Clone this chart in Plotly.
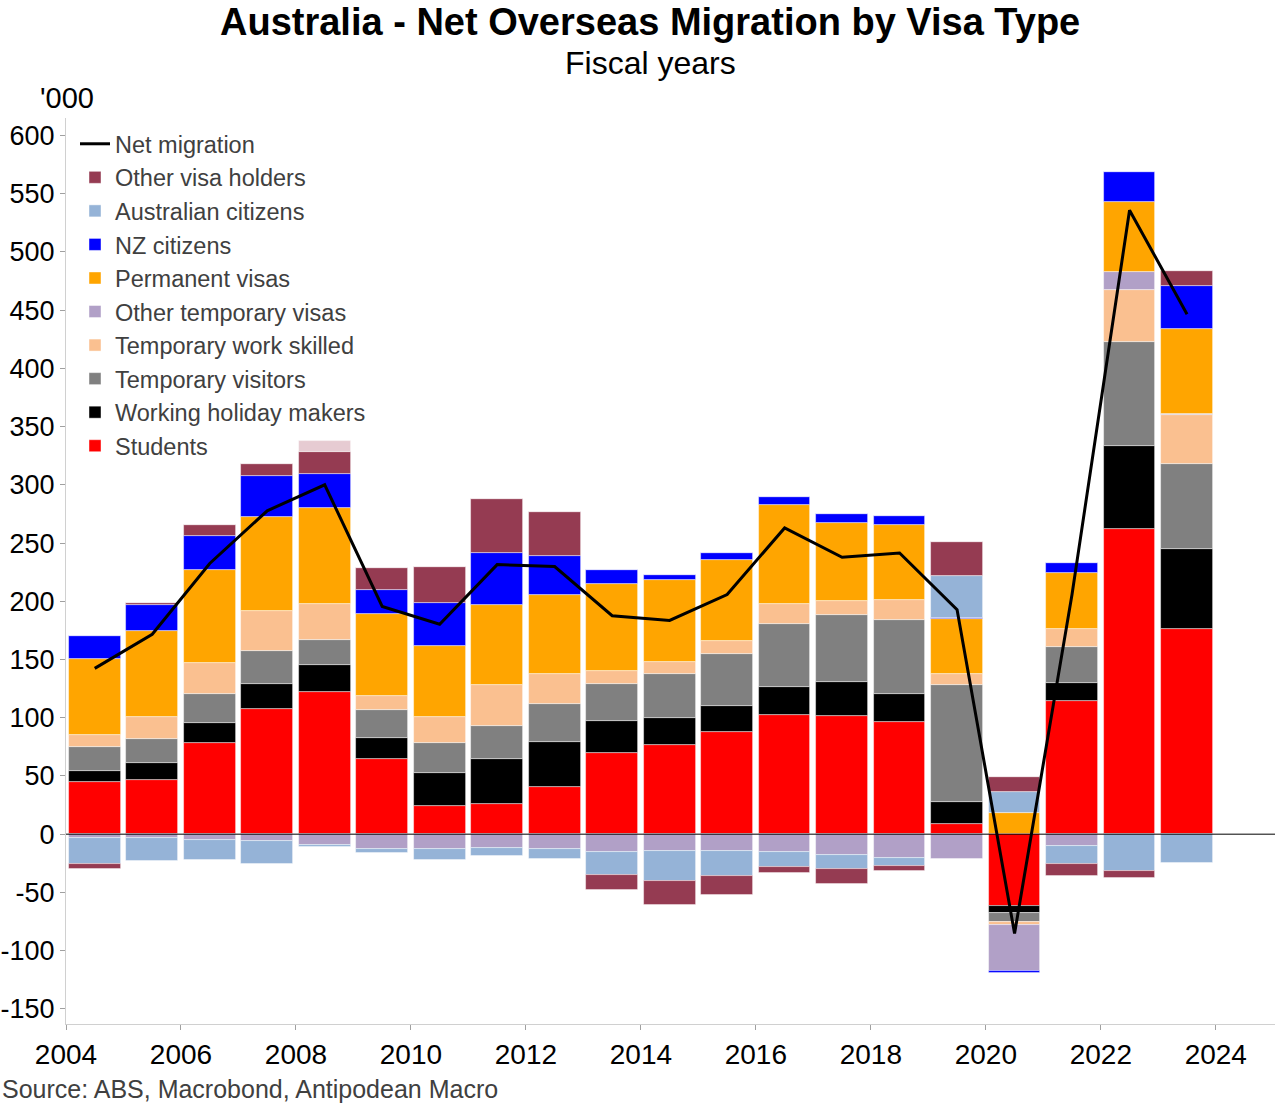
import plotly.graph_objects as go

# Fiscal years (bars centred mid-way between calendar years)
fiscal_years = [2005, 2006, 2007, 2008, 2009, 2010, 2011, 2012, 2013, 2014,
                2015, 2016, 2017, 2018, 2019, 2020, 2021, 2022, 2023, 2024]
x_pos = [fy - 0.5 for fy in fiscal_years]

students = [44.5, 46.7, 78.0, 107.2, 121.8, 64.5, 24.6, 25.5, 40.7, 69.9,
            76.5, 87.4, 102.0, 101.7, 96.3, 9.1, -61.5, 114.4, 262.4, 176.3]
working_holiday = [9.4, 14.3, 17.2, 21.8, 23.5, 18.0, 28.1, 38.7, 38.7, 27.2,
                   23.2, 22.6, 24.4, 28.7, 24.0, 18.2, -6.4, 15.4, 70.6, 68.3]
temp_visitors = [21.1, 20.4, 25.4, 28.6, 21.5, 24.1, 25.3, 28.9, 32.7, 32.0,
                 38.1, 44.5, 53.9, 58.2, 64.0, 101.2, -7.7, 30.6, 89.8, 72.9]
temp_work_skilled = [10.0, 19.5, 26.7, 33.9, 30.9, 12.0, 22.9, 35.0, 25.8, 11.0,
                     10.1, 11.4, 17.4, 11.4, 17.2, 9.1, -2.3, 15.9, 44.6, 42.4]
other_temp = [-3.7, -3.7, -5.2, -5.7, -8.9, -12.3, -12.9, -12.0, -12.9, -15.2,
              -14.1, -14.3, -14.9, -17.8, -20.1, -21.4, -39.6, -10.5, 15.1, 0.5]
permanent = [65.4, 73.3, 79.7, 80.8, 82.5, 70.8, 61.0, 68.8, 67.9, 74.6,
             70.4, 69.6, 85.1, 67.6, 64.1, 46.9, 18.2, 47.8, 60.6, 73.4]
nz_citizens = [20.1, 22.3, 28.8, 35.7, 29.5, 20.1, 36.3, 44.4, 33.5, 12.3,
               4.3, 6.0, 6.9, 7.5, 7.8, 1.4, -1.9, 8.7, 25.9, 36.9]
aus_citizens = [-21.5, -19.5, -17.2, -20.1, -2.3, -4.0, -8.9, -6.9, -8.6, -20.0,
                -26.0, -21.5, -13.5, -12.3, -7.1, 36.0, 17.8, -15.0, -31.4, -24.6]
other_visa_holders = [-4.6, 1.7, 10.0, 10.3, 18.1, 18.9, 31.6, 46.9, 37.5, -12.4,
                      -21.0, -16.0, -5.1, -12.6, -4.3, 29.1, 12.7, -10.5, -6.4, 12.7]
unlabelled = [0, 0, 0, 0, 10.0, 0, 0, 0, 0, 0,
              0, 0, 0, 0, 0, 0, 0, 0, 0, 0]
net_migration = [142.4, 171.7, 232.5, 277.7, 300.0, 195.6, 180.3, 231.5, 229.8, 187.6,
                 183.6, 205.8, 263.0, 237.8, 241.5, 192.7, -85.2, 206.0, 535.8, 446.5]

x_ticks = [2004, 2006, 2008, 2010, 2012, 2014, 2016, 2018, 2020, 2022, 2024]
y_ticks = [-150, -100, -50, 0, 50, 100, 150, 200, 250, 300, 350, 400, 450, 500, 550, 600]

series = [
    ("Students", students, "#ff0000", True),
    ("Working holiday makers", working_holiday, "#000000", True),
    ("Temporary visitors", temp_visitors, "#808080", True),
    ("Temporary work skilled", temp_work_skilled, "#fac090", True),
    ("Other temporary visas", other_temp, "#b1a0c7", True),
    ("Permanent visas", permanent, "#ffa500", True),
    ("NZ citizens", nz_citizens, "#0000ff", True),
    ("Australian citizens", aus_citizens, "#95b3d7", True),
    ("Other visa holders", other_visa_holders, "#953b52", True),
    ("Other", unlabelled, "#e6cbd2", False),
]

FONT = "Liberation Sans, Arial, sans-serif"
W, H = 1279, 1105
L, R, T, B = 66, 4, 118, 81
pw, ph = W - L - R, H - T - B


def px_to_paper(px, py):
    """Convert page pixel position to plot-paper coordinates."""
    return (px - L) / pw, 1 - (py - T) / ph


fig = go.Figure()
for name, vals, col, show in series:
    fig.add_trace(go.Bar(
        x=x_pos, y=vals, name=name, width=0.9,
        marker=dict(color=col, line=dict(color="rgba(255,255,255,0.55)", width=0.8)),
        showlegend=show,
    ))

fig.add_trace(go.Scatter(
    x=x_pos, y=net_migration, name="Net migration", mode="lines",
    line=dict(color="#000000", width=3),
))

ann = []
for text, px, py, anchor, size, color in [
    ("<b>Australia - Net Overseas Migration by Visa Type</b>", 649.5, 22, "center", 38, "#000000"),
    ("Fiscal years", 650, 63, "center", 32, "#000000"),
    ("'000", 38, 98, "left", 29, "#000000"),
    ("Source: ABS, Macrobond, Antipodean Macro", 0, 1089, "left", 25, "#404040"),
]:
    ax_, ay_ = px_to_paper(px, py)
    ann.append(dict(text=text, xref="paper", yref="paper", x=ax_, y=ay_,
                    xanchor=anchor, yanchor="middle", showarrow=False,
                    font=dict(size=size, color=color, family=FONT)))

lx, ly = px_to_paper(75, 122)

fig.update_layout(
    width=W, height=H,
    barmode="relative",
    bargap=0,
    plot_bgcolor="white", paper_bgcolor="white",
    margin=dict(l=L, r=R, t=T, b=B, autoexpand=False),
    font=dict(family=FONT, color="#000000"),
    legend=dict(
        traceorder="reversed",
        x=lx, y=ly, xanchor="left", yanchor="top",
        font=dict(size=23.5, color="#404040", family=FONT),
        bgcolor="rgba(0,0,0,0)",
        itemwidth=30,
        tracegroupgap=0,
    ),
    xaxis=dict(
        range=[2004, 2025.03],
        tickvals=x_ticks,
        ticktext=[str(t) for t in x_ticks],
        tickfont=dict(size=28, color="#000000"),
        showgrid=False, zeroline=False, automargin=False,
        showline=True, linecolor="#d0d0d0", linewidth=1,
        ticks="outside", ticklen=5, tickcolor="#a0a0a0",
    ),
    yaxis=dict(
        range=[-163, 615],
        tickvals=y_ticks,
        ticktext=[str(t) for t in y_ticks],
        tickfont=dict(size=27, color="#000000"),
        showgrid=False, zeroline=False, automargin=False,
        showline=True, linecolor="#d0d0d0", linewidth=1,
        ticks="outside", ticklen=5, tickcolor="#a0a0a0",
    ),
    shapes=[dict(type="line", xref="paper", x0=0, x1=1, yref="y", y0=0, y1=0,
                 line=dict(color="#000000", width=1), layer="above")],
    annotations=ann,
)

fig.write_html("out.html", config={"displayModeBar": False},
               post_script="document.body.style.margin='0';")
